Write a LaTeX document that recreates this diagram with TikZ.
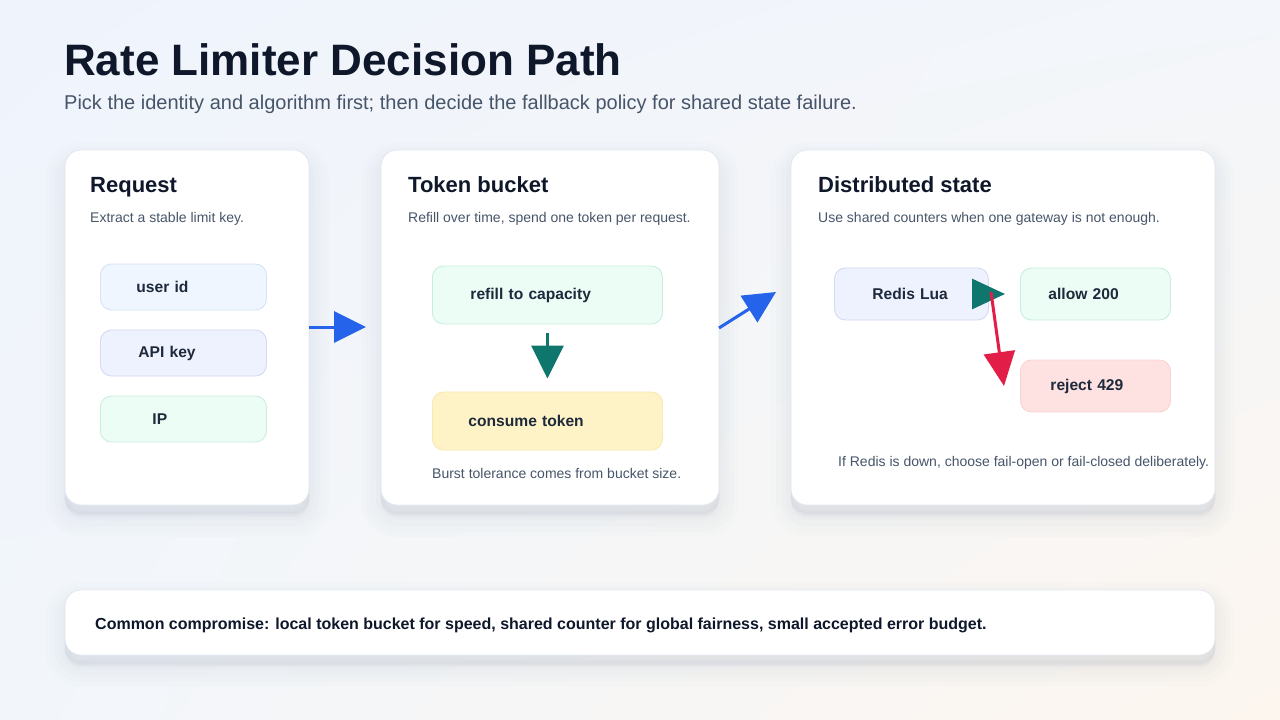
\documentclass[tikz,border=0pt]{standalone}
\usepackage{fontspec}
\setmainfont{Liberation Sans}
\usetikzlibrary{arrows.meta,shadings}
\definecolor{bgA}{HTML}{EFF4FC}
\definecolor{bgB}{HTML}{F3F6FA}
\definecolor{bgC}{HTML}{F2F6FB}
\definecolor{bgD}{HTML}{FDF6EF}
\definecolor{ink}{HTML}{0F172A}
\definecolor{slate}{HTML}{475569}
\definecolor{pilltext}{HTML}{1E293B}
\definecolor{blueF}{HTML}{EFF6FF}\definecolor{blueD}{HTML}{D3E4F5}
\definecolor{indF}{HTML}{EEF2FF}\definecolor{indD}{HTML}{D4DAF1}
\definecolor{mintF}{HTML}{ECFDF5}\definecolor{mintD}{HTML}{C8EEDD}
\definecolor{yelF}{HTML}{FEF3C7}\definecolor{yelD}{HTML}{FBE8B0}
\definecolor{redF}{HTML}{FEE2E2}\definecolor{redD}{HTML}{F9D2D2}
\definecolor{arBlue}{HTML}{2563EB}
\definecolor{arGreen}{HTML}{0F766E}
\definecolor{arRed}{HTML}{E11D48}
\definecolor{cardD}{HTML}{E2E8F0}
\definecolor{shad}{HTML}{475A80}
\tikzset{
  softshadow/.style={
    preaction={draw=shad, fill=shad, opacity=0.010, line width=40pt, transform canvas={yshift=-12pt}},
    preaction={draw=shad, fill=shad, opacity=0.012, line width=30pt, transform canvas={yshift=-12pt}},
    preaction={draw=shad, fill=shad, opacity=0.014, line width=20pt, transform canvas={yshift=-11pt}},
    preaction={draw=shad, fill=shad, opacity=0.016, line width=10pt, transform canvas={yshift=-10pt}},
    preaction={draw=shad, fill=shad, opacity=0.018, line width=2pt, transform canvas={yshift=-8pt}}},
  card/.style={softshadow, draw=cardD, line width=0.8pt, fill=white, rounded corners=16pt},
  cardtitle/.style={anchor=base west, inner sep=0pt, text=ink, font=\fontsize{22}{26}\selectfont\bfseries},
  cardsub/.style={anchor=base west, inner sep=0pt, text=slate, font=\fontsize{14}{17}\selectfont},
  pill/.style={rounded corners=11pt, line width=0.9pt, minimum height=46pt, inner ysep=0pt,
    align=left, text=pilltext, font=\fontsize{15.6}{18}\selectfont\bfseries},
  flow/.style={line width=3pt, -{Triangle[length=32pt,width=31pt]}},
}
\begin{document}
\begin{tikzpicture}[x=1pt,y=-1pt]
\useasboundingbox (0,0) rectangle (1280,720);
\shade[upper left=bgA, upper right=bgB, lower left=bgC, lower right=bgD] (0,0) rectangle (1280,720);

% title
\node[anchor=base west, inner sep=0pt, text=ink, font=\fontsize{44}{50}\selectfont\bfseries] (title) at (64,75) {Rate Limiter Decision Path};
\node[anchor=base west, inner sep=0pt, text=slate, font=\fontsize{20}{24}\selectfont] (subtitle) at (64,109) {Pick the identity and algorithm first; then decide the fallback policy for shared state failure.};

% cards
\node[card, minimum width=244pt, minimum height=355pt] (c1) at (187,327.5) {};
\node[card, minimum width=338pt, minimum height=355pt] (c2) at (550,327.5) {};
\node[card, minimum width=424pt, minimum height=355pt] (c3) at (1003,327.5) {};
\node[card, minimum width=1150pt, minimum height=65pt] (bar) at (640,622.5) {};

% card 1
\node[cardtitle] (t1) at (90,192) {Request};
\node[cardsub] (s1) at (90,222) {Extract a stable limit key.};
\node[pill, draw=blueD, fill=blueF, anchor=west, inner xsep=36pt, text width=94pt] (uid) at (100,287) {user id};
\node[pill, draw=indD, fill=indF, anchor=west, inner xsep=38pt, text width=90pt] (api) at (100,353) {API key};
\node[pill, draw=mintD, fill=mintF, anchor=west, inner xsep=52pt, text width=62pt] (ip) at (100,419) {IP};

% card 2
\node[cardtitle] (t2) at (408,192) {Token bucket};
\node[cardsub] (s2) at (408,222) {Refill over time, spend one token per request.};
\node[pill, draw=mintD, fill=mintF, anchor=west, inner xsep=38pt, text width=154pt, minimum height=58pt] (refill) at (432,295) {refill to capacity};
\node[pill, draw=yelD, fill=yelF, anchor=west, inner xsep=36pt, text width=158pt, minimum height=58pt] (consume) at (432,421) {consume token};
\node[cardsub] (cap2) at (432,478) {Burst tolerance comes from bucket size.};

% card 3
\node[cardtitle] (t3) at (818,192) {Distributed state};
\node[cardsub] (s3) at (818,222) {Use shared counters when one gateway is not enough.};
\node[pill, draw=indD, fill=indF, anchor=west, inner xsep=38pt, text width=78pt, minimum height=52pt] (redis) at (834,294) {Redis Lua};
\node[pill, draw=mintD, fill=mintF, anchor=west, inner xsep=28pt, text width=94pt, minimum height=52pt] (allow) at (1020,294) {allow 200};
\node[pill, draw=redD, fill=redF, anchor=west, inner xsep=30pt, text width=90pt, minimum height=52pt] (reject) at (1020,386) {reject 429};
\node[cardsub] (cap3) at (838,466) {If Redis is down, choose fail-open or fail-closed deliberately.};

% bottom bar text
\node[anchor=base west, inner sep=0pt, text=ink, font=\fontsize{16}{19}\selectfont\bfseries] (bartext) at (95,629) {Common compromise: local token bucket for speed, shared counter for global fairness, small accepted error budget.};

% connectors
\coordinate (a1s) at (c1.east |- 0,327);
\coordinate (a1e) at (366,327);
\draw[flow, draw=arBlue, fill=arBlue] (a1s) -- (a1e);

\coordinate (a2s) at (719,328);
\coordinate (a2e) at (776,292);
\draw[flow, draw=arBlue, fill=arBlue] (a2s) -- (a2e);

\draw[line width=3pt, draw=arGreen, fill=arGreen, -{Triangle[length=33pt,width=32pt]},
  shorten <=9pt, shorten >=13pt] (refill.south) -- (consume.north);

\coordinate (g3s) at (984,294);
\coordinate (g3e) at (1005,294);
\draw[line width=3pt, draw=arGreen, fill=arGreen, -{Triangle[length=33pt,width=30pt]}] (g3s) -- (g3e);

\coordinate (r3s) at (991,292);
\coordinate (r3e) at (1004,386);
\draw[line width=3pt, draw=arRed, fill=arRed, -{Triangle[length=34pt,width=31pt]}] (r3s) -- (r3e);
\end{tikzpicture}
\end{document}
